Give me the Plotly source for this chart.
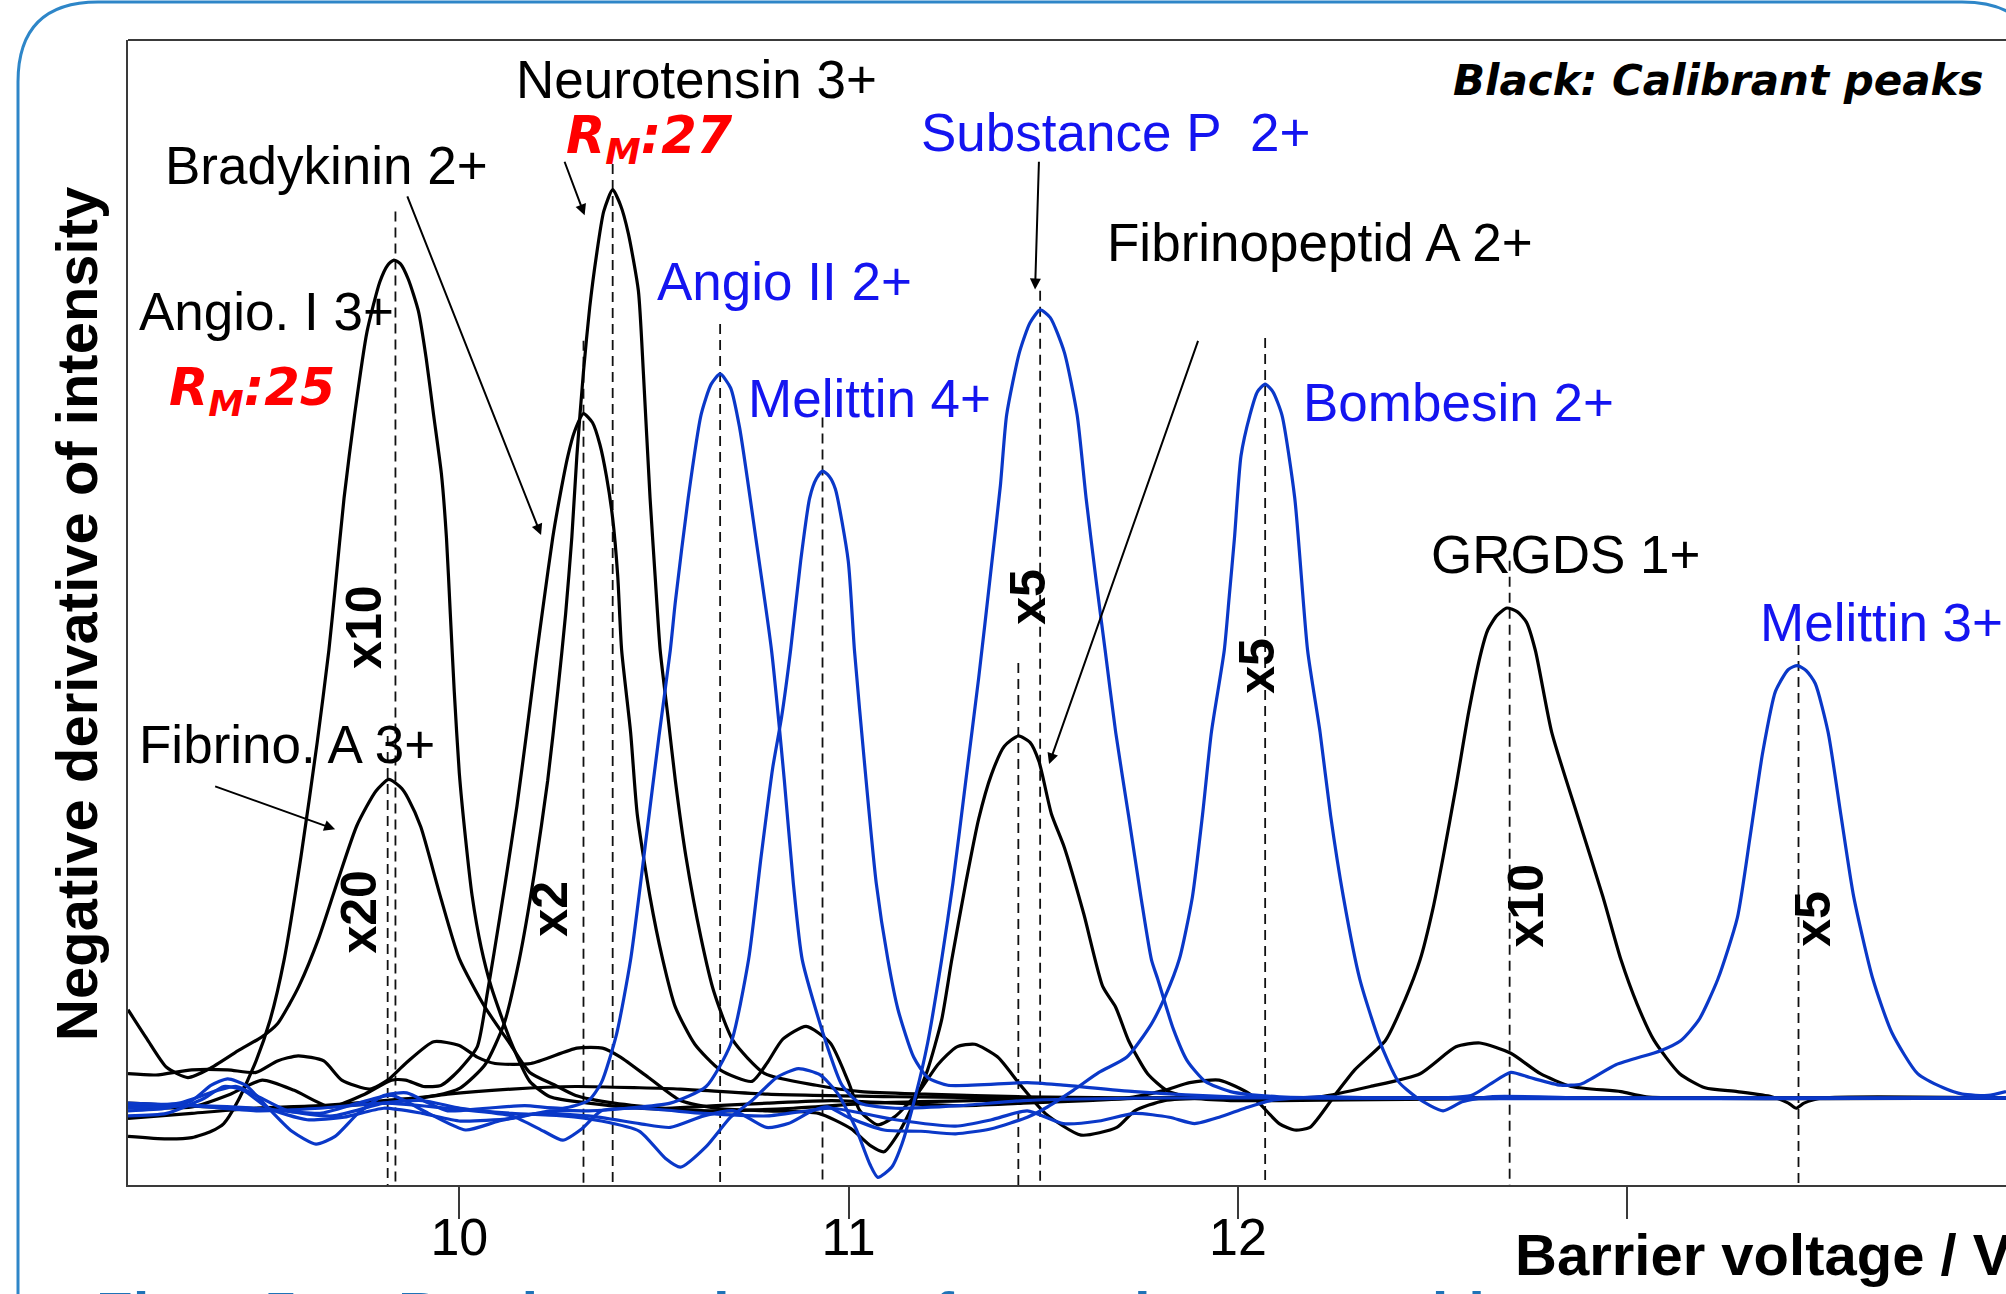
import plotly.graph_objects as go

# ---------------- data (x: barrier voltage / V, y: -dI/dV, arbitrary units) ----------------
# Calibrant curves (black)
angio1_v = [9.149, 9.248, 9.313, 9.363, 9.395, 9.432, 9.478, 9.514, 9.550, 9.593, 9.635, 9.665, 9.681, 9.704, 9.731,
            9.763, 9.796, 9.816, 9.832, 9.849, 9.869, 9.895, 9.915, 9.934, 9.954, 9.967, 9.977, 9.987, 10.000, 10.016,
            10.033, 10.056, 10.082, 10.131, 10.181, 10.233, 10.332, 10.463, 10.660, 10.858, 11.055, 11.318, 11.778,
            12.435, 13.092, 13.973]
angio1_i = [3.8, 3.6, 3.7, 4.2, 4.8, 6.6, 9.7, 12.9, 17.6, 25.6, 34.6, 41.8, 46.6, 53.7, 60.2, 66.7, 70.6, 71.9, 72.3,
            72.0, 70.8, 68.3, 64.6, 60.2, 55.6, 50.6, 44.6, 38.6, 32.2, 27.1, 22.6, 18.6, 15.5, 11.3, 8.1, 6.9, 6.4, 6.0,
            5.8, 6.0, 6.4, 6.6, 6.8, 6.8, 6.8, 6.8]

fibA3_v = [9.149, 9.198, 9.248, 9.303, 9.359, 9.432, 9.494, 9.533, 9.563, 9.589, 9.639, 9.688, 9.737, 9.786, 9.819,
           9.852, 9.869, 9.901, 9.951, 10.000, 10.066, 10.131, 10.181, 10.246, 10.299, 10.398, 10.529, 10.660, 10.792,
           10.956, 11.121, 11.285, 11.449, 11.613, 11.778, 12.106, 12.211, 12.340, 12.468, 12.560, 12.622, 12.701,
           12.777, 12.856, 12.984, 13.049, 13.973]
fibA3_i = [13.7, 11.4, 9.2, 8.4, 9.1, 10.5, 11.6, 12.6, 14.1, 15.6, 19.3, 23.8, 28.1, 30.8, 31.7, 31.0, 30.2, 28.0,
           22.6, 17.7, 13.9, 11.0, 8.8, 7.8, 7.0, 6.4, 6.0, 6.2, 6.4, 6.6, 6.4, 6.2, 6.4, 6.6, 6.8, 6.8, 6.9, 7.7, 8.7,
           10.8, 11.1, 10.3, 8.7, 7.7, 7.3, 6.9, 6.8]

brady_v = [9.149, 9.313, 9.412, 9.494, 9.576, 9.668, 9.757, 9.826, 9.862, 9.908, 9.954, 10.000, 10.046, 10.072, 10.089,
           10.118, 10.148, 10.174, 10.197, 10.217, 10.240, 10.260, 10.279, 10.296, 10.319, 10.342, 10.361, 10.378,
           10.394, 10.407, 10.417, 10.440, 10.457, 10.490, 10.522, 10.555, 10.605, 10.670, 10.752, 10.792, 10.831,
           10.891, 10.953, 10.999, 11.029, 11.075, 11.121, 11.183, 11.229, 11.278, 11.324, 11.383, 11.439, 11.505,
           11.597, 11.689, 11.735, 11.811, 11.942, 13.973]
brady_i = [6.1, 6.1, 7.1, 8.2, 7.4, 6.1, 7.1, 8.2, 8.2, 7.7, 7.8, 9.0, 10.8, 15.0, 18.1, 23.6, 29.6, 35.6, 41.1, 45.6,
           50.6, 54.1, 57.0, 58.9, 60.3, 59.6, 57.9, 55.4, 52.1, 47.6, 41.8, 35.4, 29.0, 22.5, 17.7, 13.9, 11.0, 9.0,
           8.1, 9.6, 11.4, 12.4, 11.1, 8.1, 5.8, 4.7, 5.4, 7.4, 9.4, 10.8, 11.0, 10.0, 7.9, 5.6, 3.9, 4.5, 5.8, 6.6,
           6.8, 6.8]

neuro_v = [9.149, 9.313, 9.478, 9.642, 9.806, 9.938, 10.003, 10.066, 10.115, 10.154, 10.194, 10.227, 10.253, 10.273,
           10.289, 10.302, 10.319, 10.335, 10.352, 10.371, 10.394, 10.414, 10.434, 10.460, 10.473, 10.490, 10.503,
           10.516, 10.536, 10.555, 10.582, 10.621, 10.654, 10.703, 10.785, 10.917, 11.032, 11.196, 11.449, 11.778,
           13.973]
neuro_i = [5.2, 5.6, 6.0, 6.2, 6.6, 7.0, 7.6, 9.4, 12.6, 17.6, 24.6, 31.6, 38.6, 44.6, 50.6, 57.0, 63.6, 68.6, 72.6,
           76.1, 77.8, 76.6, 74.4, 69.9, 63.4, 53.7, 47.6, 41.8, 36.6, 31.6, 25.7, 19.3, 15.1, 11.3, 8.7, 7.8, 7.3,
           7.1, 6.9, 6.8, 6.8]

fibA2_v = [9.149, 9.221, 9.313, 9.405, 9.478, 9.533, 9.586, 9.652, 9.698, 9.770, 9.816, 9.862, 9.934, 10.000, 10.046,
           10.092, 10.184, 10.302, 10.368, 10.414, 10.486, 10.568, 10.660, 10.792, 10.923, 11.006, 11.055, 11.091,
           11.127, 11.163, 11.203, 11.239, 11.265, 11.301, 11.334, 11.367, 11.400, 11.436, 11.466, 11.489, 11.521,
           11.554, 11.604, 11.653, 11.686, 11.719, 11.768, 11.817, 11.883, 11.981, 12.106, 12.435, 12.764, 13.973]
fibA2_i = [8.7, 8.6, 9.0, 9.0, 8.8, 9.7, 10.1, 9.7, 8.2, 7.5, 8.2, 9.5, 11.2, 10.9, 10.0, 9.5, 9.5, 10.7, 10.7, 10.0,
           8.4, 6.6, 6.0, 5.8, 5.6, 4.4, 3.1, 2.6, 4.0, 6.1, 9.0, 12.9, 17.6, 23.6, 28.6, 32.1, 34.3, 35.1, 34.6, 33.1,
           29.0, 26.4, 21.2, 15.5, 13.9, 11.3, 8.7, 7.4, 6.8, 6.6, 6.6, 6.7, 6.8, 6.8]

grgds_v = [9.149, 9.478, 9.806, 9.970, 10.135, 10.299, 10.463, 10.568, 10.792, 11.121, 11.449, 11.712, 11.811, 11.876,
           11.952, 12.031, 12.106, 12.146, 12.185, 12.251, 12.300, 12.379, 12.428, 12.468, 12.501, 12.527, 12.560,
           12.593, 12.626, 12.642, 12.665, 12.691, 12.718, 12.741, 12.764, 12.806, 12.872, 12.938, 12.984, 13.026,
           13.069, 13.135, 13.200, 13.283, 13.371, 13.414, 13.434, 13.454, 13.503, 13.973]
grgds_i = [6.4, 6.0, 6.4, 7.1, 7.5, 7.7, 7.6, 7.5, 7.1, 6.9, 6.8, 6.8, 7.4, 8.0, 8.2, 7.1, 4.8, 4.3, 4.5, 7.1, 9.0,
           11.3, 14.4, 17.6, 21.6, 25.6, 31.1, 37.0, 41.8, 43.4, 44.5, 45.1, 44.8, 44.0, 41.8, 35.4, 28.9, 22.5, 17.6,
           14.1, 11.3, 8.7, 7.6, 7.3, 6.9, 6.4, 6.0, 6.4, 6.8, 6.8]

# Analyte curves (blue)
angio2_v = [9.149, 9.248, 9.313, 9.363, 9.405, 9.451, 9.510, 9.570, 9.632, 9.681, 9.740, 9.806, 9.865, 9.921, 9.970,
            10.069, 10.168, 10.266, 10.332, 10.365, 10.404, 10.440, 10.480, 10.513, 10.542, 10.555, 10.588, 10.621,
            10.647, 10.670, 10.697, 10.720, 10.762, 10.802, 10.835, 10.858, 10.881, 10.937, 10.983, 11.029, 11.121,
            11.285, 11.449, 11.778, 13.973]
angio2_i = [5.8, 6.0, 6.6, 7.8, 8.3, 7.8, 6.0, 4.2, 3.2, 3.8, 5.6, 7.0, 7.2, 6.4, 5.8, 6.0, 6.2, 6.0, 6.6, 8.0, 11.8,
            17.6, 27.1, 35.1, 41.8, 45.6, 53.7, 60.2, 62.6, 63.4, 62.3, 59.2, 50.5, 41.8, 31.6, 23.6, 17.6, 11.6, 7.8,
            6.4, 6.0, 6.2, 6.6, 6.8, 6.8]

mel4_v = [9.149, 9.248, 9.346, 9.395, 9.445, 9.510, 9.609, 9.704, 9.806, 9.905, 10.003, 10.135, 10.233, 10.332, 10.430,
          10.542, 10.634, 10.697, 10.743, 10.775, 10.805, 10.828, 10.851, 10.877, 10.900, 10.917, 10.933, 10.950,
          10.966, 10.999, 11.015, 11.042, 11.071, 11.101, 11.127, 11.167, 11.203, 11.255, 11.459, 11.551, 11.735,
          11.981, 12.435, 13.973]
mel4_i = [5.4, 5.6, 6.8, 7.7, 7.4, 6.0, 5.1, 5.3, 6.0, 5.6, 5.0, 5.2, 5.8, 5.8, 6.0, 6.4, 7.7, 11.0, 17.6, 25.6, 32.6,
          36.6, 41.8, 48.8, 53.7, 55.2, 55.8, 55.4, 54.4, 48.8, 41.8, 32.6, 23.6, 17.6, 13.7, 10.0, 8.4, 7.8, 8.0, 7.8,
          7.3, 6.9, 6.8, 6.8]

subP_v = [9.149, 9.280, 9.379, 9.428, 9.478, 9.560, 9.675, 9.806, 9.905, 10.003, 10.135, 10.266, 10.365, 10.463, 10.529,
          10.568, 10.634, 10.697, 10.752, 10.815, 10.871, 10.927, 10.973, 11.019, 11.055, 11.075, 11.111, 11.137,
          11.173, 11.203, 11.239, 11.268, 11.301, 11.334, 11.364, 11.390, 11.406, 11.439, 11.466, 11.492, 11.518,
          11.554, 11.587, 11.610, 11.636, 11.659, 11.686, 11.719, 11.751, 11.778, 11.794, 11.834, 11.870, 11.916,
          11.981, 12.106, 13.973]
subP_i = [6.2, 6.4, 7.4, 7.7, 7.0, 5.8, 5.4, 6.4, 6.6, 6.0, 5.6, 5.4, 5.0, 4.2, 2.1, 1.4, 3.0, 5.3, 6.6, 8.4, 9.1, 8.6,
          7.1, 4.4, 1.6, 0.6, 1.4, 3.2, 7.1, 11.1, 17.6, 23.6, 31.6, 39.6, 47.6, 54.7, 60.2, 65.1, 67.4, 68.4, 67.8,
          65.1, 60.2, 53.7, 47.2, 41.8, 35.4, 28.9, 22.5, 17.6, 16.1, 12.2, 9.7, 8.1, 7.3, 6.9, 6.8]

bomb_v = [9.149, 9.313, 9.478, 9.642, 9.740, 9.826, 9.921, 10.016, 10.102, 10.200, 10.332, 10.463, 10.542, 10.628,
          10.706, 10.789, 10.845, 10.907, 10.946, 10.999, 11.091, 11.186, 11.275, 11.367, 11.459, 11.505, 11.577,
          11.643, 11.715, 11.778, 11.814, 11.850, 11.883, 11.909, 11.932, 11.965, 11.978, 11.991, 12.008, 12.031,
          12.050, 12.070, 12.090, 12.113, 12.146, 12.179, 12.211, 12.238, 12.271, 12.313, 12.363, 12.412, 12.461,
          12.527, 12.576, 12.649, 12.928, 13.973]
bomb_i = [6.0, 6.2, 6.0, 5.6, 6.4, 7.0, 5.6, 4.3, 5.0, 5.6, 5.4, 4.8, 4.5, 5.4, 5.8, 4.5, 4.8, 5.8, 6.1, 5.3, 4.3, 4.2,
          4.0, 4.4, 5.3, 6.0, 7.4, 8.8, 10.0, 12.6, 14.8, 17.7, 22.5, 28.9, 35.4, 41.8, 46.1, 50.5, 57.0, 60.2, 62.0,
          62.6, 62.0, 60.2, 53.7, 41.8, 35.4, 28.9, 22.5, 16.1, 11.3, 8.1, 6.8, 5.8, 6.5, 6.9, 6.8, 6.8]

mel3_v = [9.149, 9.313, 9.478, 9.642, 9.806, 9.970, 10.135, 10.217, 10.266, 10.315, 10.365, 10.463, 10.628, 10.792,
          10.956, 11.121, 11.275, 11.367, 11.459, 11.551, 11.643, 11.735, 11.824, 11.889, 11.952, 12.018, 12.083,
          12.205, 12.369, 12.599, 12.649, 12.701, 12.750, 12.829, 12.882, 12.971, 13.086, 13.138, 13.184, 13.233,
          13.283, 13.316, 13.348, 13.381, 13.414, 13.437, 13.460, 13.483, 13.516, 13.549, 13.582, 13.631, 13.680,
          13.746, 13.812, 13.861, 13.927, 13.973]
mel3_i = [6.4, 6.2, 5.8, 6.0, 6.4, 6.0, 5.4, 4.2, 3.5, 4.4, 5.8, 6.0, 5.6, 5.4, 6.0, 5.1, 4.6, 5.1, 5.8, 4.8, 5.0, 5.6,
          5.3, 4.8, 5.3, 6.0, 6.6, 6.9, 6.8, 7.0, 7.9, 8.8, 8.4, 7.8, 7.9, 9.4, 10.5, 11.3, 12.9, 16.1, 20.9, 27.3,
          33.8, 38.6, 40.3, 40.6, 40.2, 39.2, 35.4, 28.9, 22.5, 16.1, 11.9, 8.7, 7.6, 7.1, 7.0, 7.3]

# Peak-position markers (dashed lines): voltage and top of the line
marker_v = [9.816, 9.836, 10.319, 10.394, 10.670, 10.933, 11.436, 11.492, 12.070, 12.698, 13.440]
marker_top = [35.1, 76.1, 66.0, 79.8, 67.3, 60.0, 40.8, 69.9, 66.2, 48.8, 42.2]

# Peak labels
label_text = ["Neurotensin 3+", "Bradykinin 2+", "Angio. I 3+", "Fibrino. A 3+", "Substance P  2+", "Angio II 2+",
              "Melittin 4+", "Fibrinopeptid A 2+", "Bombesin 2+", "GRGDS 1+", "Melittin 3+"]
label_v = [10.141, 9.238, 9.172, 9.172, 11.180, 10.503, 10.736, 11.659, 12.162, 12.491, 13.335]
label_i = [86.4, 79.7, 68.3, 34.4, 82.3, 70.6, 61.5, 73.7, 61.2, 49.3, 44.0]
label_color = ["black", "black", "black", "black", "blue", "blue", "blue", "black", "blue", "black", "blue"]

# Resolution labels
rm_text = ["27", "25"]
rm_v = [10.269, 9.248]
rm_i = [81.8, 62.1]

# Amplification factors (rotated)
amp_text = ["x10", "x20", "x2", "x5", "x5", "x10", "x5"]
amp_v = [9.757, 9.740, 10.233, 11.459, 12.047, 12.741, 13.477]
amp_i = [43.6, 21.3, 21.6, 46.0, 40.6, 21.8, 20.8]

# Arrows: tail -> head
arrow_tail_v = [10.269, 9.865, 9.369, 11.489, 11.899]
arrow_tail_i = [80.1, 77.4, 31.2, 80.1, 66.1]
arrow_head_v = [10.322, 10.210, 9.681, 11.479, 11.515]
arrow_head_i = [75.8, 50.8, 27.8, 70.0, 32.9]

x_ticks = [10, 11, 12, 13]
x_ticktext = ["10", "11", "12", ""]

caption_words = ["Fig.", "5:", "Barrier", "voltages", "for", "various", "peptides"]
caption_x = [-0.0181, 0.0714, 0.1427, 0.2732, 0.4281, 0.4867, 0.6257]

# ---------------- figure ----------------
BLACK = "#000000"
BLUE_LINE = "#0a38c8"
BLUE_TEXT = "#1414f0"
SANS = "Liberation Sans, Arial, sans-serif"
VERD = "DejaVu Sans, Verdana, sans-serif"

fig = go.Figure()

# dashed peak markers
for v, top in zip(marker_v, marker_top):
    fig.add_trace(go.Scatter(x=[v, v], y=[top, 0], mode="lines",
                             line=dict(color="#111111", width=1.8, dash="10px,6px"),
                             hoverinfo="skip"))

black_curves = [(angio1_v, angio1_i), (fibA3_v, fibA3_i), (brady_v, brady_i),
                (neuro_v, neuro_i), (fibA2_v, fibA2_i), (grgds_v, grgds_i)]
blue_curves = [(angio2_v, angio2_i), (mel4_v, mel4_i), (subP_v, subP_i),
               (bomb_v, bomb_i), (mel3_v, mel3_i)]

for xs, ys in black_curves:
    fig.add_trace(go.Scatter(x=xs, y=ys, mode="lines",
                             line=dict(color=BLACK, width=3.2, shape="spline", smoothing=0.6),
                             hoverinfo="skip"))
for xs, ys in blue_curves:
    fig.add_trace(go.Scatter(x=xs, y=ys, mode="lines",
                             line=dict(color=BLUE_LINE, width=3.2, shape="spline", smoothing=0.6),
                             hoverinfo="skip"))

ann = []
for t, v, i, c in zip(label_text, label_v, label_i, label_color):
    ann.append(dict(x=v, y=i, xref="x", yref="y", text=t, showarrow=False, xanchor="left", yanchor="middle",
                    font=dict(family=SANS, size=53, color=BLACK if c == "black" else BLUE_TEXT)))
for t, v, i in zip(rm_text, rm_v, rm_i):
    ann.append(dict(x=v, y=i, xref="x", yref="y", text="<b><i>R<sub>M</sub>:" + t + "</i></b>",
                    showarrow=False, xanchor="left", yanchor="middle",
                    font=dict(family=VERD, size=51, color="#ff0000")))
for t, v, i in zip(amp_text, amp_v, amp_i):
    ann.append(dict(x=v, y=i, xref="x", yref="y", text="<b>" + t + "</b>", showarrow=False,
                    textangle=-90, xanchor="center", yanchor="middle",
                    font=dict(family=SANS, size=50, color=BLACK)))
for tv, ti, hv, hi in zip(arrow_tail_v, arrow_tail_i, arrow_head_v, arrow_head_i):
    ann.append(dict(x=hv, y=hi, xref="x", yref="y", ax=tv, ay=ti, axref="x", ayref="y", text="",
                    showarrow=True, arrowhead=2, arrowsize=1.1, arrowwidth=2, arrowcolor=BLACK, standoff=0))

ann.append(dict(x=12.547, y=86.3, xref="x", yref="y", text="<b><i>Black: Calibrant peaks</i></b>",
                showarrow=False, xanchor="left", yanchor="middle",
                font=dict(family=VERD, size=42, color=BLACK)))

# axis titles
ann.append(dict(x=-0.0272, y=0.4987, xref="paper", yref="paper", text="<b>Negative derivative of intensity</b>",
                showarrow=False, textangle=-90, xanchor="center", yanchor="middle",
                font=dict(family=SANS, size=58, color=BLACK)))
ann.append(dict(x=0.7375, y=-0.0611, xref="paper", yref="paper", text="<b>Barrier voltage / V</b>",
                showarrow=False, xanchor="left", yanchor="middle",
                font=dict(family=SANS, size=58, color=BLACK)))
# caption (cut off by the page bottom)
for w, cx in zip(caption_words, caption_x):
    ann.append(dict(x=cx, y=-0.0815, xref="paper", yref="paper", text="<b>" + w + "</b>",
                    showarrow=False, xanchor="left", yanchor="top",
                    font=dict(family=SANS, size=60, color="#1f73b7")))

shapes = [
    # top frame line of the plot area
    dict(type="line", xref="paper", yref="paper", x0=0, x1=1, y0=1, y1=1,
         line=dict(color="#3a3a3a", width=2)),
    # rounded slide border
    dict(type="path", xref="paper", yref="paper",
         path="M -0.05857,-0.18777 L -0.05857,0.96332 Q -0.05857,1.03319 -0.01597,1.03319 "
              "L 0.97657,1.03319 Q 1.01917,1.03319 1.01917,0.96332 L 1.01917,-0.18777",
         line=dict(color="#2e86c8", width=3)),
]

fig.update_layout(
    width=2006, height=1294,
    margin=dict(l=128, r=0, t=40, b=109, pad=0),
    paper_bgcolor="white", plot_bgcolor="white",
    showlegend=False, hovermode=False,
    annotations=ann, shapes=shapes,
    xaxis=dict(range=[9.149, 13.973], showgrid=False, zeroline=False, showline=True,
               linecolor="#3a3a3a", linewidth=2, ticks="outside", ticklen=32, tickwidth=1.5,
               tickcolor="#3a3a3a", tickvals=x_ticks, ticktext=x_ticktext, ticklabelstandoff=-26,
               tickfont=dict(family="Liberation Sans Narrow, Liberation Sans, Arial", size=52, color=BLACK)),
    yaxis=dict(range=[0, 89.5], showgrid=False, zeroline=False, showline=True,
               linecolor="#3a3a3a", linewidth=2, showticklabels=False, ticks=""),
)

fig.write_html("out.html", config={"displayModeBar": False},
               post_script="document.body.style.margin='0';document.body.style.overflow='hidden';")
